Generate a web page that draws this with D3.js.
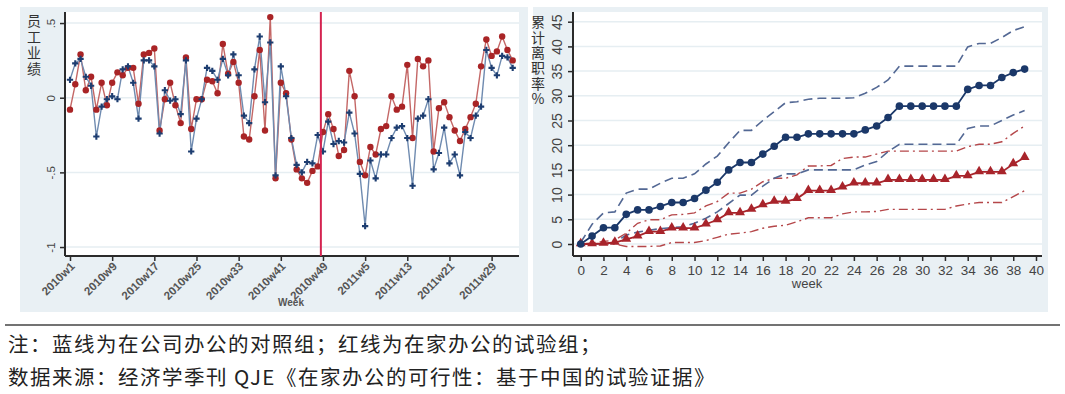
<!DOCTYPE html>
<html>
<head>
<meta charset="utf-8">
<script src="https://cdn.jsdelivr.net/npm/d3@7"></script>
<style>
  body { margin: 0; background: #fff; }
  svg { display: block; font-family: "Liberation Sans", Arial, sans-serif; }
</style>
</head>
<body>
<div id="chart"></div>
<script>
// ---- left panel: weekly performance, 2010w1 .. 2011w33 ----
var weeks = [];
for (var w = 1; w <= 52; w++) weeks.push("2010w" + w);
for (var w = 1; w <= 33; w++) weeks.push("2011w" + w);

// control group (office), blue
var officePerf = [0.12, 0.23, 0.26, 0.14, 0.08, -0.26, -0.06, -0.01, 0.01, -0.01,
  0.19, 0.21, 0.10, -0.14, 0.25, 0.25, 0.21, -0.24, 0.05, -0.02,
  -0.01, -0.11, 0.25, -0.36, -0.14, -0.01, 0.20, 0.18, 0.12, 0.26,
  0.15, 0.29, 0.15, -0.12, -0.17, 0.19, 0.41, -0.03, 0.37, -0.52,
  0.21, 0.01, -0.27, -0.45, -0.50, -0.43, -0.44, -0.25, -0.36, -0.16,
  -0.31, -0.29, -0.30, -0.10, -0.24, -0.51, -0.86, -0.42, -0.54, -0.38,
  -0.38, -0.27, -0.20, -0.19, -0.27, -0.59, -0.14, -0.12, -0.01, -0.48,
  -0.37, -0.20, -0.44, -0.38, -0.52, -0.23, -0.27, -0.12, -0.06, 0.32,
  0.20, 0.15, 0.28, 0.27, 0.20];

// treatment group (home), red
var homePerf = [-0.08, 0.09, 0.29, 0.05, 0.14, -0.08, 0.10, -0.05, 0.10, 0.17,
  0.15, 0.20, 0.20, -0.04, 0.29, 0.30, 0.33, -0.22, -0.01, 0.10,
  -0.05, -0.17, 0.27, -0.21, -0.01, -0.01, 0.12, 0.11, 0.03, 0.36,
  0.16, 0.24, 0.10, -0.26, -0.28, 0.01, 0.32, -0.22, 0.54, -0.54,
  0.10, 0.03, -0.28, -0.48, -0.54, -0.57, -0.49, -0.46, -0.23, -0.11,
  -0.21, -0.39, -0.35, 0.18, 0.01, -0.43, -0.52, -0.33, -0.38, -0.21,
  -0.19, 0.01, -0.08, -0.06, 0.22, -0.27, 0.26, 0.21, 0.25, -0.36,
  -0.07, -0.03, -0.13, -0.22, -0.29, -0.21, -0.13, -0.04, 0.21, 0.39,
  0.28, 0.31, 0.41, 0.32, 0.25];

var leftXTicks = [0, 8, 16, 24, 32, 40, 48, 56, 64, 72, 80];
var leftYTicks = [-1, -0.5, 0, 0.5];
var leftYTickLabels = ["-1", "-.5", "0", ".5"];
var treatmentStart = 47.6;   // red vertical marker
var leftYTitle = "员工业绩";

// ---- right panel: cumulative quit rate by week ----
var quitWeeks = d3.range(0, 40);
var ctrlQuit = [0, 1.6, 3.3, 3.3, 6.0, 6.9, 6.9, 7.6, 8.4, 8.4, 9.2, 10.9, 12.5, 15.0, 16.5, 16.5,
  18.2, 19.8, 21.6, 21.6, 22.3, 22.3, 22.3, 22.3, 22.3, 23.1, 23.9, 25.6, 27.9, 27.9,
  27.9, 27.9, 27.9, 27.9, 31.3, 32.1, 32.1, 33.7, 34.7, 35.4];
var ctrlHi = [0.3, 4.0, 6.3, 6.5, 10.3, 11.1, 11.1, 12.3, 13.3, 13.3, 14.2, 16.2, 17.8, 20.5, 23.0, 23.0,
  25.0, 26.8, 28.6, 28.8, 29.3, 29.5, 29.5, 29.5, 29.6, 30.5, 31.7, 33.2, 36.0, 36.0,
  36.0, 36.0, 36.0, 36.0, 39.9, 40.6, 40.6, 41.8, 43.2, 44.0];
var ctrlLo = [0, 0, 0, 0.3, 1.8, 2.4, 2.8, 3.1, 3.3, 3.5, 4.2, 5.2, 6.5, 8.2, 9.9, 9.9,
  11.7, 13.3, 14.2, 14.2, 15.0, 15.0, 15.0, 15.0, 15.0, 16.0, 16.7, 18.7, 20.2, 20.2,
  20.2, 20.2, 20.2, 20.2, 23.4, 23.9, 23.9, 25.0, 26.1, 27.0];
var treatQuit = [0, 0, 0.1, 0.3, 0.95, 1.6, 2.5, 2.5, 3.2, 3.2, 3.2, 4.0, 4.9, 6.3, 6.3, 7.0,
  7.9, 8.6, 8.6, 9.2, 10.8, 10.8, 10.8, 11.5, 12.3, 12.3, 12.3, 13.0, 13.0, 13.0,
  13.0, 13.0, 13.0, 13.8, 13.8, 14.6, 14.6, 14.6, 16.2, 17.5];
var treatHi = [0, 0.2, 0.5, 0.8, 2.2, 4.2, 4.9, 4.9, 5.9, 6.0, 6.3, 7.7, 8.6, 10.3, 10.3, 11.1,
  12.6, 13.3, 13.3, 14.0, 15.8, 15.8, 15.9, 17.3, 17.6, 17.6, 18.2, 18.8, 18.8, 18.8,
  18.8, 18.8, 18.8, 18.8, 19.7, 20.2, 20.2, 20.7, 22.4, 23.9];
var treatLo = [0, 0, 0, 0, -0.5, -0.5, -0.5, -0.4, 0.3, 0.3, 0.3, 0.7, 1.35, 2.0, 2.2, 2.5,
  3.2, 3.6, 3.8, 4.5, 5.3, 5.3, 5.3, 6.1, 6.5, 6.5, 6.6, 7.0, 7.0, 7.0,
  7.0, 7.0, 7.0, 7.7, 8.1, 8.4, 8.4, 8.4, 9.6, 10.8];

var rightXTicks = d3.range(0, 41, 2);
var rightYTicks = d3.range(0, 46, 5);
var rightYTitle = "累计离职率%";

var notes = [
  "注：蓝线为在公司办公的对照组；红线为在家办公的试验组；",
  "数据来源：经济学季刊 QJE《在家办公的可行性：基于中国的试验证据》"
];

// ---- svg ----
var svgWidth = 1065, svgHeight = 394;
var svg = d3.select("#chart").append("svg")
  .attr("width", svgWidth)
  .attr("height", svgHeight);

var panelBg = "#e9f0f4", gridColor = "#e6eef2", axisColor = "#2b2b2b";
var cjk = "'Noto Sans CJK SC', sans-serif";

// vertical stacked axis title (one text element)
function verticalTitle(x, y, txt, size, spacing) {
  svg.append("text")
    .attr("x", x).attr("y", y)
    .style("writing-mode", "vertical-rl")
    .style("text-orientation", "upright")
    .style("font-family", cjk).style("font-size", size + "px")
    .style("letter-spacing", spacing + "px")
    .attr("fill", "#333").text(txt);
}

// ===== left panel =====
var L = { x0: 20, x1: 528, top: 7, bottom: 312, plotL: 65, plotR: 519, plotT: 12, plotB: 256 };

svg.append("rect").attr("x", L.x0).attr("y", L.top)
  .attr("width", L.x1 - L.x0).attr("height", L.bottom - L.top).attr("fill", panelBg);
svg.append("rect").attr("x", L.plotL).attr("y", L.plotT)
  .attr("width", L.plotR - L.plotL).attr("height", L.plotB - L.plotT).attr("fill", "#fff");

var xL = d3.scaleLinear().domain([0, 84]).range([70, 512.7]);
var yL = d3.scaleLinear().domain([-1.06, 0.574]).range([L.plotB, L.plotT]);

svg.append("g").selectAll("line").data(leftYTicks).enter().append("line")
  .attr("x1", L.plotL).attr("x2", L.plotR)
  .attr("y1", d => yL(d)).attr("y2", d => yL(d))
  .attr("stroke", gridColor).attr("stroke-width", 1.5);

// left y axis
var lyAxis = svg.append("g").attr("transform", `translate(${L.plotL},0)`)
  .call(d3.axisLeft(yL).tickValues(leftYTicks).tickSize(5).tickSizeOuter(0)
    .tickFormat((d, i) => leftYTickLabels[i]));
lyAxis.selectAll("text")
  .attr("x", 0).attr("dy", 0)
  .attr("transform", "translate(-10,0) rotate(-90)")
  .attr("text-anchor", "middle")
  .style("font-size", "11.5px").attr("fill", "#444");

// left x axis
var lxAxis = svg.append("g").attr("transform", `translate(0,${L.plotB})`)
  .call(d3.axisBottom(xL).tickValues(leftXTicks).tickSize(5).tickSizeOuter(0)
    .tickFormat(i => weeks[i]));
lxAxis.selectAll("text")
  .attr("x", 0).attr("y", 0).attr("dy", 0)
  .attr("transform", "translate(5,11) rotate(-45)")
  .attr("text-anchor", "end")
  .style("font-size", "11.5px").style("font-weight", "bold").attr("fill", "#555");

[lyAxis, lxAxis].forEach(function (a) {
  a.select(".domain").attr("stroke", axisColor).attr("stroke-width", 2);
  a.selectAll(".tick line").attr("stroke", axisColor).attr("stroke-width", 1.5);
});
// extend domain lines to the plot edges
lxAxis.select(".domain").attr("d", `M${L.plotL},0H${L.plotR}`);
lyAxis.select(".domain").attr("d", `M0,${L.plotT}V${L.plotB}`);

svg.append("text").attr("x", 291).attr("y", 306).attr("text-anchor", "middle")
  .style("font-size", "10px").style("font-weight", "bold").attr("fill", "#555").text("Week");

verticalTitle(34, 14, leftYTitle, 14, 2);

var lineL = d3.line().x((d, i) => xL(i)).y(d => yL(d));

svg.append("path").datum(homePerf).attr("d", lineL)
  .attr("fill", "none").attr("stroke", "#c46766").attr("stroke-width", 1.4);
svg.append("path").datum(officePerf).attr("d", lineL)
  .attr("fill", "none").attr("stroke", "#6f8bb0").attr("stroke-width", 1.4);

svg.append("g").selectAll("circle").data(homePerf).enter().append("circle")
  .attr("cx", (d, i) => xL(i)).attr("cy", d => yL(d)).attr("r", 3.2)
  .attr("fill", "#a92426");

var crossSym = d3.symbol().type(d3.symbolCross).size(22);
svg.append("g").selectAll("path").data(officePerf).enter().append("path")
  .attr("d", crossSym)
  .attr("transform", (d, i) => `translate(${xL(i)},${yL(d)})`)
  .attr("fill", "#1d3d70");

svg.append("line")
  .attr("x1", xL(treatmentStart)).attr("x2", xL(treatmentStart))
  .attr("y1", L.plotT).attr("y2", L.plotB)
  .attr("stroke", "#d42350").attr("stroke-width", 2);

// ===== right panel =====
var R = { x0: 533, x1: 1048, top: 7, bottom: 312, plotL: 573, plotR: 1042, plotT: 12, plotB: 256 };

svg.append("rect").attr("x", R.x0).attr("y", R.top)
  .attr("width", R.x1 - R.x0).attr("height", R.bottom - R.top).attr("fill", panelBg);
svg.append("rect").attr("x", R.plotL).attr("y", R.plotT)
  .attr("width", R.plotR - R.plotL).attr("height", R.plotB - R.plotT).attr("fill", "#fff");

var xR = d3.scaleLinear().domain([0, 40]).range([580.7, 1036]);
var yR = d3.scaleLinear().domain([0, 45]).range([244, 21.7]);

svg.append("g").selectAll("line").data(rightYTicks).enter().append("line")
  .attr("x1", R.plotL).attr("x2", R.plotR)
  .attr("y1", d => yR(d)).attr("y2", d => yR(d))
  .attr("stroke", gridColor).attr("stroke-width", 1.5);

var ryAxis = svg.append("g").attr("transform", `translate(${R.plotL},0)`)
  .call(d3.axisLeft(yR).tickValues(rightYTicks).tickSize(5).tickSizeOuter(0));
ryAxis.selectAll("text")
  .attr("x", 0).attr("dy", 0)
  .attr("transform", "translate(-11,0) rotate(-90)")
  .attr("text-anchor", "middle")
  .style("font-size", "14px").attr("fill", "#444");

var rxAxis = svg.append("g").attr("transform", `translate(0,${R.plotB})`)
  .call(d3.axisBottom(xR).tickValues(rightXTicks).tickSize(5).tickSizeOuter(0));
rxAxis.selectAll("text").attr("y", 9)
  .style("font-size", "13.5px").attr("fill", "#444");

[ryAxis, rxAxis].forEach(function (a) {
  a.select(".domain").attr("stroke", axisColor).attr("stroke-width", 2);
  a.selectAll(".tick line").attr("stroke", axisColor).attr("stroke-width", 1.5);
});
rxAxis.select(".domain").attr("d", `M${R.plotL},0H${R.plotR}`);
ryAxis.select(".domain").attr("d", `M0,${R.plotT}V${R.plotB}`);

svg.append("text").attr("x", 807).attr("y", 288).attr("text-anchor", "middle")
  .style("font-size", "13px").attr("fill", "#444").text("week");

verticalTitle(538, 15, rightYTitle, 14, 1.3);

var lineR = d3.line().x((d, i) => xR(quitWeeks[i])).y(d => yR(d));

function drawLine(values, color, dash, width) {
  svg.append("path").datum(values).attr("d", lineR)
    .attr("fill", "none").attr("stroke", color)
    .attr("stroke-width", width).attr("stroke-dasharray", dash);
}

drawLine(treatLo, "#b5474a", "9,4,2,4", 1.4);
drawLine(treatHi, "#b5474a", "9,4,2,4", 1.4);
drawLine(ctrlLo, "#536894", "9,5", 1.6);
drawLine(ctrlHi, "#536894", "9,5", 1.6);
drawLine(treatQuit, "#a8242b", null, 1.8);
drawLine(ctrlQuit, "#1b3869", null, 1.8);

var triSym = d3.symbol().type(d3.symbolTriangle).size(42);
svg.append("g").selectAll("path").data(treatQuit).enter().append("path")
  .attr("d", triSym)
  .attr("transform", (d, i) => `translate(${xR(quitWeeks[i])},${yR(d) - 0.5})`)
  .attr("fill", "#a8242b");

svg.append("g").selectAll("circle").data(ctrlQuit).enter().append("circle")
  .attr("cx", (d, i) => xR(quitWeeks[i])).attr("cy", d => yR(d)).attr("r", 3.8)
  .attr("fill", "#1b3869");

// ===== footer =====
svg.append("line").attr("x1", 5).attr("x2", 1060).attr("y1", 325).attr("y2", 325)
  .attr("stroke", "#444").attr("stroke-width", 1.3);

svg.append("g").selectAll("text").data(notes).enter().append("text")
  .attr("x", 8).attr("y", (d, i) => 352 + i * 33)
  .style("font-family", cjk).style("font-size", "20.5px")
  .style("letter-spacing", "1.5px")
  .attr("fill", "#222").text(d => d);
</script>
</body>
</html>
